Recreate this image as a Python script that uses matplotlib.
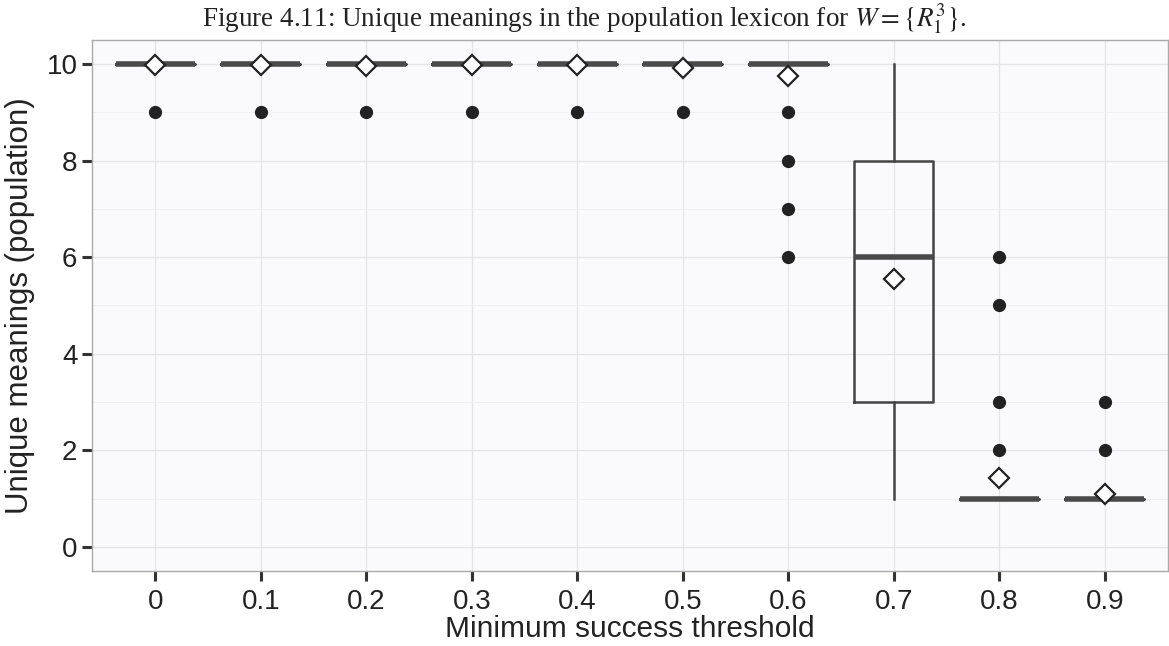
import matplotlib.pyplot as plt
import numpy as np

# data
thresholds = ["0", "0.1", "0.2", "0.3", "0.4", "0.5", "0.6", "0.7", "0.8", "0.9"]
q1 = [10, 10, 10, 10, 10, 10, 10, 3, 1, 1]
medians = [10, 10, 10, 10, 10, 10, 10, 6, 1, 1]
q3 = [10, 10, 10, 10, 10, 10, 10, 8, 1, 1]
whisker_lo = [10, 10, 10, 10, 10, 10, 10, 1, 1, 1]
whisker_hi = [10, 10, 10, 10, 10, 10, 10, 10, 1, 1]
means = [9.98, 9.98, 9.97, 9.98, 9.98, 9.93, 9.75, 5.55, 1.42, 1.1]
outliers = [[9], [9], [9], [9], [9], [9], [9, 8, 7, 6], [], [2, 3, 5, 6], [2, 3]]

plt.rcParams['font.family'] = ['Liberation Sans', 'DejaVu Sans']
plt.rcParams['mathtext.fontset'] = 'stix'

fig = plt.figure(figsize=(11.69, 6.46), dpi=100)
fig.patch.set_facecolor('white')
ax = fig.add_axes([0.0787, 0.1161, 0.9205, 0.822])
ax.set_facecolor('#fafafc')

stats = []
for i in range(len(thresholds)):
    stats.append(dict(q1=q1[i], med=medians[i], q3=q3[i],
                      whislo=whisker_lo[i], whishi=whisker_hi[i],
                      fliers=outliers[i], label=thresholds[i]))

pos = np.arange(1, len(thresholds) + 1)
ax.bxp(stats, positions=pos, widths=0.75, showcaps=False, showfliers=True,
       boxprops=dict(color='#444444', linewidth=1.8),
       whiskerprops=dict(color='#444444', linewidth=1.8),
       medianprops=dict(color='#4a4a4a', linewidth=4),
       flierprops=dict(marker='o', markerfacecolor='#222222',
                       markeredgecolor='#222222', markersize=8.5))

ax.plot(pos, means, linestyle='none', marker='D', markersize=10,
        markerfacecolor='white', markeredgecolor='#222222',
        markeredgewidth=1.6, zorder=5)

ax.set_xlim(0.4, len(thresholds) + 0.6)
ax.set_ylim(-0.5, 10.5)
ax.set_yticks([0, 2, 4, 6, 8, 10])
ax.set_yticks([1, 3, 5, 7, 9], minor=True)
ax.set_xticks(pos)
ax.set_xticklabels(thresholds)

ax.grid(True, which='major', color='#e4e4e8', linewidth=0.9)
ax.grid(True, which='minor', axis='y', color='#efeff2', linewidth=0.6)
ax.set_axisbelow(True)
ax.tick_params(which='minor', length=0)
ax.tick_params(which='major', direction='out', length=7, width=2.2,
               color='#333333', labelsize=20, labelcolor='#222222')
ax.tick_params(axis='x', pad=6)
for s in ax.spines.values():
    s.set_color('#aaaaaa')
    s.set_linewidth(1)

ax.set_xlabel('Minimum success threshold', fontsize=21.5, color='#222222', labelpad=0)
ax.set_ylabel('Unique meanings (population)', fontsize=22.5, color='#222222', labelpad=8)

fig.text(0.5, 0.958, r'Figure 4.11: Unique meanings in the population lexicon for $W=\{R_1^3\}$.',
         ha='center', va='baseline', fontsize=19.5, family='Liberation Serif',
         color='#222222')

fig.savefig('out.png', dpi=100)
